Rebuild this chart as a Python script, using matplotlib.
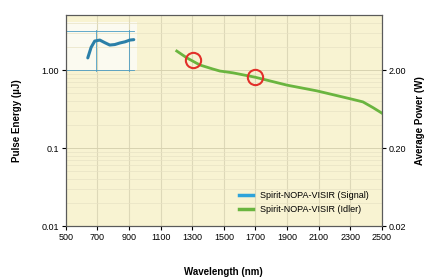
import matplotlib.pyplot as plt
from matplotlib.patches import Rectangle
from matplotlib.ticker import LogLocator

plt.rcParams['font.family'] = ['Liberation Sans', 'DejaVu Sans']

signal_wl = [639, 660, 683, 715, 745, 778, 810, 842, 875, 905, 930]
signal_uj = [1.43, 1.95, 2.35, 2.42, 2.25, 2.09, 2.12, 2.22, 2.3, 2.42, 2.45]

idler_wl = [1202, 1266, 1348, 1430, 1475, 1557, 1696, 1899, 2089, 2316, 2380, 2443, 2500]
idler_uj = [1.75, 1.43, 1.16, 1.03, 0.97, 0.92, 0.81, 0.64, 0.54, 0.42, 0.39, 0.33, 0.28]

marked_wl = [1304, 1696]
marked_uj = [1.34, 0.81]

x_ticks = list(range(500, 2501, 200))
left_ticks = [0.01, 0.1, 1.0]
left_labels = ['0.01', '0.1', '1.00']
right_ticks = [0.02, 0.2, 2.0]
right_labels = ['0.02', '0.20', '2.00']

fig = plt.figure(figsize=(4.33, 2.78), dpi=100)
ax = fig.add_axes([0.152, 0.187, 0.730, 0.759])
ax.set_facecolor('#f8f3d2')
ax.set_yscale('log')
ax.set_xlim(500, 2500)
ax.set_ylim(0.01, 5.07)

ax.yaxis.set_minor_locator(LogLocator(base=10, subs=range(2, 10)))
ax.grid(True, which='major', axis='x', color='#ddd8b8', linewidth=0.8)
ax.grid(True, which='major', axis='y', color='#d8d2b0', linewidth=0.7)
ax.grid(True, which='minor', axis='y', color='#e8e2c4', linewidth=0.5)

# whitish overlay with blue guide lines in upper left
ax.add_patch(Rectangle((500, 0.98), 450, 3.2, facecolor='#fbfaf0', edgecolor='none', zorder=1))
for yv in [1.0, 3.2]:
    ax.plot([500, 930], [yv, yv], color='#4a9cc4', linewidth=0.6, zorder=2)
for xv in [500, 690, 900]:
    ax.plot([xv, xv], [0.98, 3.3], color='#4a9cc4', linewidth=0.6, zorder=2)

ax.plot(signal_wl, signal_uj, color='#2b7fa8', linewidth=2.2, solid_capstyle='round', zorder=3)
ax.plot(idler_wl, idler_uj, color='#6ab53f', linewidth=2, zorder=3)
ax.plot(marked_wl, marked_uj, linestyle='none', marker='o', markersize=11,
        markerfacecolor='none', markeredgecolor='#e2302a', markeredgewidth=1.5, zorder=4)

ax.plot([], [], color='#2ea3da', linewidth=2.5, label='Spirit-NOPA-VISIR (Signal)')
ax.plot([], [], color='#6ab53f', linewidth=2.5, label='Spirit-NOPA-VISIR (Idler)')
ax.legend(loc='lower right', frameon=False, fontsize=6.5, handlelength=1.6,
          bbox_to_anchor=(0.985, 0.02), labelspacing=0.5)

ax.set_xticks(x_ticks)
ax.set_xticklabels([str(t) for t in x_ticks], fontsize=6.5)
ax.set_yticks(left_ticks)
ax.set_yticklabels(left_labels, fontsize=6.5)
ax.tick_params(axis='y', which='minor', length=0)
ax.tick_params(which='major', length=3, width=0.8, pad=2)

ax2 = ax.twinx()
ax2.set_yscale('log')
ax2.set_ylim(0.02, 5.07 * 2)
ax2.set_yticks(right_ticks)
ax2.set_yticklabels(right_labels, fontsize=6.5)
ax2.yaxis.set_minor_locator(plt.NullLocator())
ax2.tick_params(length=3, width=0.8, pad=2)

for a in (ax, ax2):
    for s in a.spines.values():
        s.set_color('#5a5a5a')
        s.set_linewidth(0.8)

ax.set_ylabel('Pulse Energy (µJ)', fontsize=7, fontweight='bold', labelpad=14)
ax2.set_ylabel('Average Power (W)', fontsize=7, fontweight='bold', labelpad=6)
ax.set_xlabel('Wavelength (nm)', fontsize=7, fontweight='bold', labelpad=18)

fig.savefig('out.png', dpi=100)
